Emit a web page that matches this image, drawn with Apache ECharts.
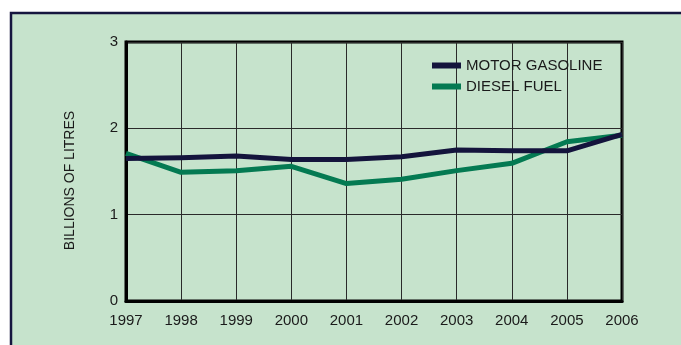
<!DOCTYPE html>
<html>
<head>
<meta charset="utf-8">
<script src="https://cdn.jsdelivr.net/npm/echarts@6/dist/echarts.min.js"></script>
<style>
  html, body { margin: 0; padding: 0; background: #ffffff; }
  #chart { width: 681px; height: 345px; }
</style>
</head>
<body>
<div id="chart"></div>
<script>
// Annual sales, billions of litres
const years = ['1997', '1998', '1999', '2000', '2001', '2002', '2003', '2004', '2005', '2006'];
const motorGasoline = [1.65, 1.66, 1.68, 1.64, 1.64, 1.67, 1.75, 1.74, 1.74, 1.93];
const dieselFuel = [1.71, 1.49, 1.51, 1.56, 1.36, 1.41, 1.51, 1.595, 1.845, 1.92];
const yTicks = [0, 1, 2, 3];

const FONT = 'Liberation Sans, Arial, Helvetica, sans-serif';
const INK = '#1a1a1a';

const chart = echarts.init(document.getElementById('chart'), null, { renderer: 'canvas' });

chart.setOption({
  animation: false,
  backgroundColor: '#ffffff',
  graphic: [{
    type: 'rect',
    z: -10,
    silent: true,
    shape: { x: 11, y: 13, width: 690, height: 360 },
    style: { fill: '#c6e3cc', stroke: '#16163f', lineWidth: 2.5 }
  }],
  grid: {
    left: 126, right: 59, top: 42, bottom: 44,
    show: true,
    borderColor: '#000000',
    borderWidth: 3,
    backgroundColor: 'transparent'
  },
  legend: {
    orient: 'vertical',
    left: 427,
    top: 53,
    itemWidth: 29,
    itemHeight: 6,
    itemGap: 6,
    icon: 'rect',
    textStyle: { fontFamily: FONT, fontSize: 15, color: INK },
    data: ['MOTOR GASOLINE', 'DIESEL FUEL']
  },
  xAxis: {
    type: 'category',
    data: years,
    boundaryGap: false,
    axisLine: { show: true, lineStyle: { color: '#000', width: 3 } },
    axisTick: { show: false },
    axisLabel: { margin: 12, fontFamily: FONT, fontSize: 15, color: INK },
    splitLine: { show: true, lineStyle: { color: '#2a2a2a', width: 1 } }
  },
  yAxis: {
    type: 'value',
    min: yTicks[0],
    max: yTicks[yTicks.length - 1],
    interval: 1,
    name: 'BILLIONS OF LITRES',
    nameLocation: 'middle',
    nameGap: 49,
    nameTextStyle: { fontFamily: FONT, fontSize: 14, color: INK, padding: [0, 0, 0, -18] },
    axisLine: { show: true, lineStyle: { color: '#000', width: 3 } },
    axisTick: { show: false },
    axisLabel: { margin: 8, fontFamily: FONT, fontSize: 15, color: INK },
    splitLine: { show: true, lineStyle: { color: '#2a2a2a', width: 1 } }
  },
  series: [
    {
      name: 'MOTOR GASOLINE',
      type: 'line',
      data: motorGasoline,
      symbol: 'none',
      color: '#14143c',
      lineStyle: { width: 5, color: '#14143c', join: 'round' },
      z: 3
    },
    {
      name: 'DIESEL FUEL',
      type: 'line',
      data: dieselFuel,
      symbol: 'none',
      color: '#047a52',
      lineStyle: { width: 5, color: '#047a52', join: 'round' },
      z: 2
    }
  ]
});
</script>
</body>
</html>
